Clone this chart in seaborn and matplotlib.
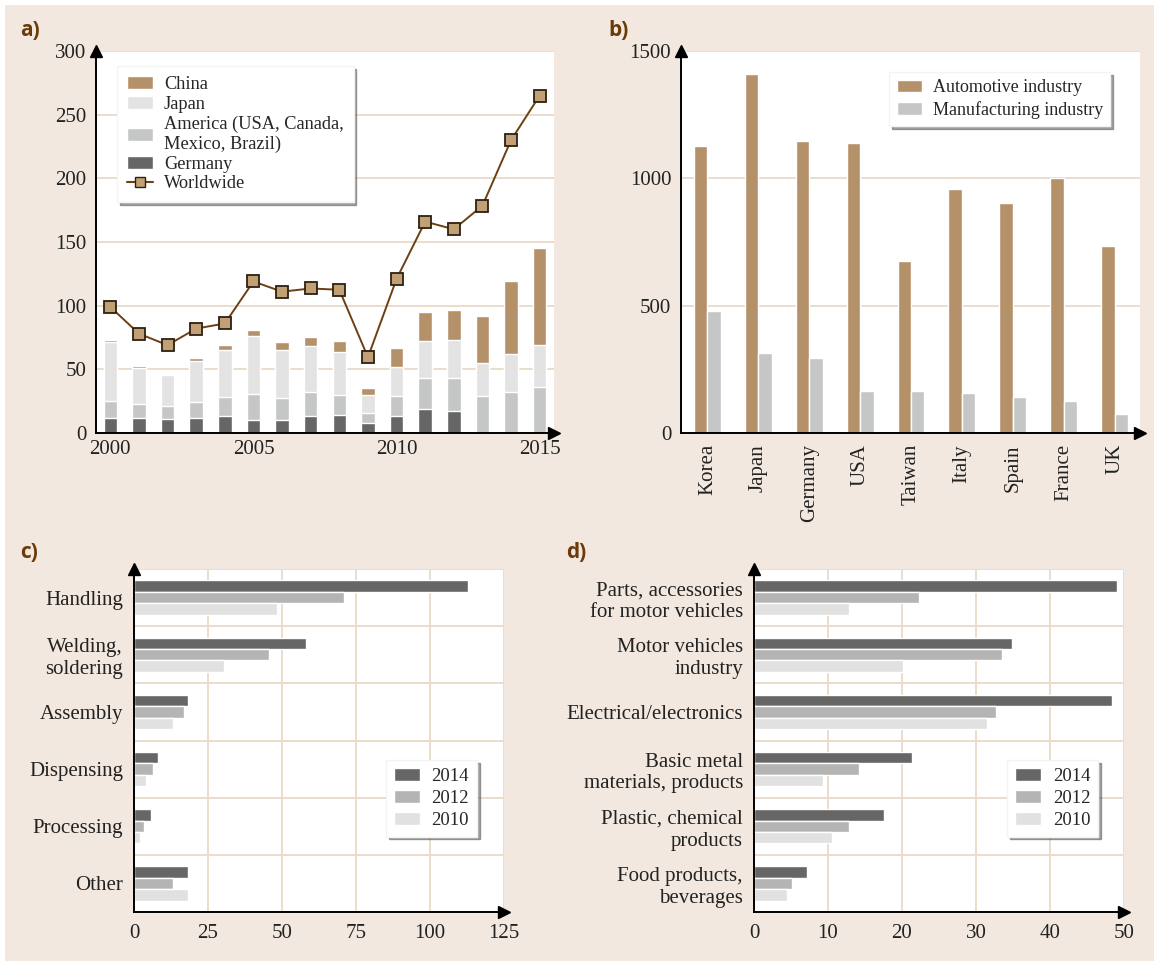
import numpy as np
import pandas as pd
import matplotlib
matplotlib.use("Agg")
import matplotlib.pyplot as plt
import seaborn as sns
from matplotlib.patches import Patch, Rectangle
from matplotlib.lines import Line2D

# ---------------- data ----------------
years = [2000, 2001, 2002, 2003, 2004, 2005, 2006, 2007,
         2008, 2009, 2010, 2011, 2012, 2013, 2014, 2015]
germany = [12, 12, 11, 12, 13, 10, 10.5, 13.5, 14.5, 7.5, 13.5, 18.5, 17, 0, 0, 0]
america = [13.5, 11, 10, 12.5, 15, 21, 17, 19, 15.5, 8.5, 15.5, 24.5, 26, 29, 32, 36]
japan = [46, 28, 24.5, 32, 37.5, 45, 38, 36, 34, 13.5, 23, 29, 30, 26, 30, 33]
china = [1.5, 1.5, 0.5, 2.5, 4, 4.5, 6, 7, 8.5, 5.5, 15, 23, 23.5, 37, 57, 76]
worldwide = [99, 78, 69, 82, 86, 119, 111, 113.5, 112.5, 59.5, 121, 166, 160, 178.5, 230, 265]
year_ticks = [2000, 2005, 2010, 2015]

countries = ["Korea", "Japan", "Germany", "USA", "Taiwan", "Italy", "Spain", "France", "UK"]
automotive = [1126, 1408, 1145, 1137, 674, 957, 902, 1000, 733]
manufacturing = [478, 314, 293, 164, 164, 156, 140, 124, 73]

applications = ["Handling", "Welding,\nsoldering", "Assembly", "Dispensing", "Processing", "Other"]
app_2014 = [113, 58, 18.3, 8.1, 5.7, 18.3]
app_2012 = [71, 45.6, 16.9, 6.3, 3.4, 13.2]
app_2010 = [48.3, 30.4, 13.2, 4.1, 2.1, 18.3]

industries = ["Parts, accessories\nfor motor vehicles", "Motor vehicles\nindustry",
              "Electrical/electronics", "Basic metal\nmaterials, products",
              "Plastic, chemical\nproducts", "Food products,\nbeverages"]
ind_2014 = [49.0, 34.9, 48.4, 21.3, 17.6, 7.2]
ind_2012 = [22.3, 33.5, 32.7, 14.2, 12.9, 5.1]
ind_2010 = [12.9, 20.1, 31.5, 9.3, 10.6, 4.4]

survey_years = ["2014", "2012", "2010"]

# ---------------- style ----------------
sns.set_style("white")
plt.rcParams["font.family"] = ["Liberation Serif", "DejaVu Serif"]
plt.rcParams["axes.linewidth"] = 1.4

W, H = 1154, 961
TAN = "#b5916a"
JAP = "#e3e3e3"
AME = "#c5c6c6"
GER = "#666666"
C14, C12, C10 = "#666666", "#b4b4b4", "#e1e1e1"
BG = "#f2e8df"
GRID = "#ecdccb"
LINE = "#6b4012"
LABEL = "#6b3a0a"
TICK_FS = 15

fig = plt.figure(figsize=(W / 100, H / 100), dpi=100, facecolor="white")
fig.patches.append(Rectangle((5 / W, 0), 1, 1 - 5 / H, transform=fig.transFigure,
                             facecolor=BG, edgecolor="none", zorder=-10))


def px_axes(l, t, r, b):
    return fig.add_axes([l / W, 1 - b / H, (r - l) / W, (b - t) / H])


def dress(ax):
    ax.set_facecolor("white")
    for s in ["top", "right"]:
        ax.spines[s].set_visible(False)
    for s in ["left", "bottom"]:
        ax.spines[s].set_color("black")
        ax.spines[s].set_linewidth(1.4)
        ax.spines[s].set_zorder(5)
    ax.plot([1], [0], marker=">", color="black", markersize=8, transform=ax.transAxes,
            clip_on=False, zorder=6)
    ax.plot([0], [1], marker="^", color="black", markersize=8, transform=ax.transAxes,
            clip_on=False, zorder=6)
    ax.set_xlabel("")
    ax.set_ylabel("")
    ax.tick_params(axis="both", which="major", length=0, labelsize=TICK_FS, colors="#222222")
    ax.tick_params(axis="y", pad=7)


def legend(ax, handles, loc, anchor, fontsize=13.5, **kw):
    lg = ax.legend(handles=handles, loc=loc, bbox_to_anchor=anchor, borderaxespad=0,
                   fontsize=fontsize, frameon=True, fancybox=False, shadow=True,
                   framealpha=1, edgecolor="#f4f4f4", handlelength=1.4, handleheight=0.7,
                   handletextpad=0.6, **kw)
    lg.set_zorder(10)
    return lg


# ---------------- panel a ----------------
ax = px_axes(96, 51, 554, 433)
ylab = [str(y) for y in years]
c1 = np.array(germany)
c2 = c1 + np.array(america)
c3 = c2 + np.array(japan)
c4 = c3 + np.array(china)
for vals, col in [(c4, TAN), (c3, JAP), (c2, AME), (c1, GER)]:
    sns.barplot(x=ylab, y=vals, color=col, width=0.47, saturation=1, errorbar=None,
                ax=ax, zorder=3)
sns.lineplot(x=np.arange(len(years)), y=worldwide, color=LINE, linewidth=1.4, marker="s",
             markersize=8, markerfacecolor="#c2a075", markeredgecolor="#2e2010",
             markeredgewidth=1.3, ax=ax, zorder=4)
ax.set_xlim(-0.5, len(years) - 0.5)
ax.set_ylim(0, 300)
ax.set_yticks(range(0, 301, 50))
ax.set_xticks([years.index(y) for y in year_ticks])
ax.set_xticklabels([str(y) for y in year_ticks])
ax.set_xticks(np.arange(0.5, len(years) - 1, 1), minor=True)
ax.tick_params(axis="x", which="minor", direction="in", length=5, width=1.5, color=GRID)
ax.yaxis.grid(True, color=GRID, linewidth=1.4)
ax.set_axisbelow(True)
dress(ax)
ax.tick_params(axis="x", pad=5)
ha = [Patch(facecolor=TAN, label="China"), Patch(facecolor=JAP, label="Japan"),
      Patch(facecolor=AME, label="America (USA, Canada,\nMexico, Brazil)"),
      Patch(facecolor=GER, label="Germany"),
      Line2D([], [], color=LINE, marker="s", markersize=7, markerfacecolor="#c2a075",
             markeredgecolor="#2e2010", label="Worldwide")]
legend(ax, ha, "upper left", (0.046, 0.961), fontsize=13.2, labelspacing=0.15,
       borderpad=0.55)

# ---------------- panel b ----------------
ax = px_axes(681, 51, 1140, 433)
df_b = pd.DataFrame({
    "country": countries * 2,
    "value": automotive + manufacturing,
    "industry": ["Automotive industry"] * len(countries) + ["Manufacturing industry"] * len(countries),
})
sns.barplot(data=df_b, x="country", y="value", hue="industry",
            hue_order=["Automotive industry", "Manufacturing industry"],
            palette=[TAN, AME], width=0.53, saturation=1, errorbar=None, legend=False,
            ax=ax, zorder=3)
ax.set_xlim(-0.52, len(countries) - 0.5)
ax.set_ylim(0, 1500)
ax.set_yticks([0, 500, 1000, 1500])
ax.set_xticks(np.arange(0.5, len(countries) - 1, 1), minor=True)
ax.tick_params(axis="x", which="minor", direction="in", length=5, width=1.5, color=GRID)
ax.yaxis.grid(True, color=GRID, linewidth=1.4)
ax.set_axisbelow(True)
dress(ax)
ax.tick_params(axis="x", labelrotation=90, pad=8)
hb = [Patch(facecolor=TAN, label="Automotive industry"),
      Patch(facecolor=AME, label="Manufacturing industry")]
legend(ax, hb, "upper right", (0.935, 0.945), fontsize=13, labelspacing=0.25,
       borderpad=0.4)


# ---------------- panels c and d ----------------
def hbar_panel(box, cats, v14, v12, v10, xmax, xstep, anchor):
    ax = px_axes(*box)
    df = pd.DataFrame({
        "cat": cats * 3,
        "value": v14 + v12 + v10,
        "year": [survey_years[0]] * len(cats) + [survey_years[1]] * len(cats)
                + [survey_years[2]] * len(cats),
    })
    sns.barplot(data=df, y="cat", x="value", hue="year", hue_order=survey_years,
                palette=[C14, C12, C10], orient="h", width=0.6, saturation=1,
                errorbar=None, legend=False, ax=ax, zorder=3)
    ax.set_xlim(0, xmax)
    ax.set_ylim(len(cats) - 0.5, -0.5)
    ax.set_xticks(np.arange(0, xmax + 0.1, xstep))
    ax.set_yticks(np.arange(-0.5, len(cats), 1), minor=True)
    ax.xaxis.grid(True, which="major", color=GRID, linewidth=1.4)
    ax.yaxis.grid(True, which="minor", color=GRID, linewidth=1.4)
    ax.tick_params(axis="y", which="minor", length=0)
    ax.set_axisbelow(True)
    dress(ax)
    ax.tick_params(axis="x", pad=9)
    ax.tick_params(axis="y", pad=8)
    for t in ax.get_yticklabels():
        t.set_linespacing(1.2)
    hc = [Patch(facecolor=c, label=y) for c, y in zip([C14, C12, C10], survey_years)]
    legend(ax, hc, "upper right", anchor, fontsize=13.5, labelspacing=0.25, borderpad=0.42)
    return ax


hbar_panel((134, 569, 504, 912), applications, app_2014, app_2012, app_2010, 125, 25,
           (0.927, 0.443))
hbar_panel((754, 569, 1124, 912), industries, ind_2014, ind_2012, ind_2010, 50, 10,
           (0.930, 0.443))

# ---------------- panel labels ----------------
for lab, x, y in [("a)", 20, 31), ("b)", 608, 31), ("c)", 20, 553), ("d)", 566, 553)]:
    fig.text(x / W, 1 - y / H, lab, fontsize=15, fontweight="bold", color=LABEL,
             family=["Open Sans", "DejaVu Sans"], ha="left", va="center")

fig.savefig("out.png", dpi=100, facecolor=fig.get_facecolor())
